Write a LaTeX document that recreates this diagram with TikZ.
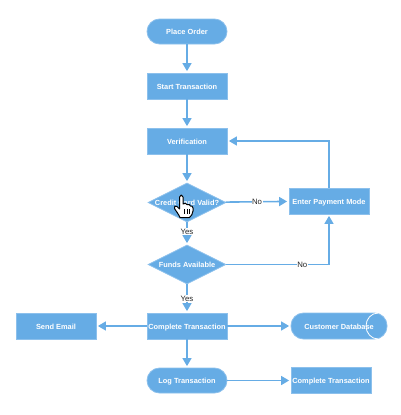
\documentclass[tikz,border=0pt]{standalone}
\usepackage{fontspec}
\setmainfont{Liberation Sans}
\usetikzlibrary{shapes.geometric,arrows.meta}
\definecolor{fc}{HTML}{66ACE5}
\definecolor{ec}{HTML}{8CC0EC}
\tikzset{
  base/.style={fill=fc,draw=ec,line width=0.8pt,inner sep=0,font=\fontsize{7.4}{9}\selectfont\bfseries,text=white,align=center,text height=6.6pt,text depth=0.6pt},
  procbox/.style={base,rectangle,minimum width=80pt,minimum height=26pt},
  term/.style={base,rectangle,rounded corners=12.5pt,minimum width=80pt,minimum height=25pt},
  dec/.style={base,diamond,minimum width=78pt,minimum height=39pt,aspect=2},
  overtext/.style={font=\fontsize{7.4}{9}\selectfont\bfseries,text=white,inner sep=0,text height=6.6pt,text depth=0.6pt},
  conn/.style={draw=fc,line width=1.6pt,shorten >=1.5pt,-{Triangle[length=8pt,width=9pt]}},
  lab/.style={fill=white,inner sep=0.6pt,font=\fontsize{7.8}{9}\selectfont,text=black!85}
}
\begin{document}
\begin{tikzpicture}[x=1pt,y=-1pt]
\useasboundingbox (0,0) rectangle (400,415);
\node[term] (order) at (187,31.5) {Place Order};
\node[procbox] (start) at (187,86) {Start Transaction};
\node[procbox] (verif) at (187,141) {Verification};
\node[dec] (credit) at (187,202.5) {};
\node[overtext] (credittext) at (187,202) {Credit Card Valid?};
\node[procbox] (pay) at (329,201) {Enter Payment Mode};
\node[dec] (funds) at (187,264.5) {};
\node[overtext] (fundstext) at (187,264.5) {Funds Available};
\node[procbox] (comp) at (187,326) {Complete Transaction};
\node[procbox] (mail) at (56,326) {Send Email};
\node[term] (log) at (187,380.5) {Log Transaction};
\node[base,rectangle,rounded corners=12.5pt,minimum width=96pt,minimum height=26pt] (db) at (339,326) {};
\draw[white,line width=0.8pt] (378,313) arc[start angle=90,end angle=270,x radius=12pt,y radius=13pt];
\node[overtext] (dbtext) at (339,326) {Customer Database};
\node[procbox] (comp2) at (331,380.5) {Complete Transaction};
\draw[conn] (order) -- (start);
\draw[conn] (start) -- (verif);
\draw[conn] (verif) -- (credit);
\draw[conn] (credit) -- node[lab,pos=0.42] (yes1) {Yes} (funds);
\draw[conn] (credit) -- node[lab,pos=0.5] (no1) {No} (pay);
\draw[conn] (pay.north) |- (verif.east);
\draw[conn] (funds.east) -| node[lab,pos=0.37] (no2) {No} (pay.south);
\draw[conn] (funds) -- node[lab,pos=0.5] (yes2) {Yes} (comp);
\draw[conn] (comp) -- (mail);
\draw[conn] (comp) -- (db);
\draw[conn] (comp) -- (log);
\draw[conn] (log) -- (comp2);
% hand cursor
\draw[black,line width=1pt,fill=white,line join=round]
 (179.5,197) .. controls (179.5,194.5) and (183,194.5) .. (183,197) -- (183,204)
 .. controls (184.5,203) and (186.5,203) .. (187,204.5)
 .. controls (188.5,204) and (190,204.5) .. (190.5,206)
 .. controls (191.5,205.5) and (193,206.5) .. (193,208)
 -- (193,211) .. controls (193,214) and (191,216) .. (189.5,217.5)
 -- (180,217.5) .. controls (178.5,214) and (176,211) .. (174.5,208.5)
 .. controls (173.5,206.5) and (175.5,205) .. (177,206.5)
 -- (179.5,209) -- cycle;
\draw[black,line width=0.4pt] (184,209)--(184,214) (186.7,209)--(186.7,214) (189.4,209)--(189.4,214);
\end{tikzpicture}
\end{document}
